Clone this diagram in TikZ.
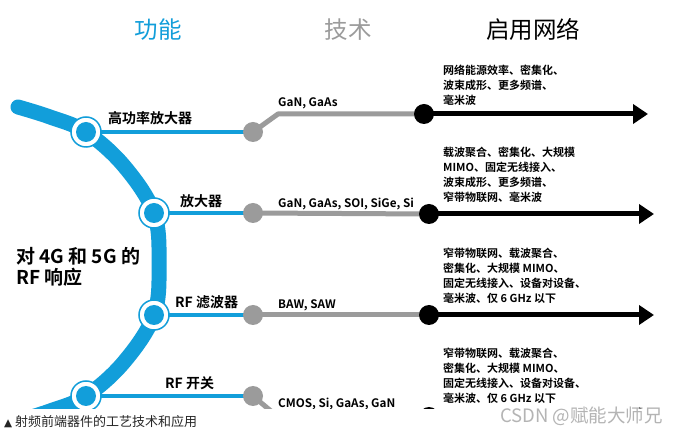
\documentclass[tikz,border=0pt]{standalone}
\usepackage{fontspec}
\setmainfont{Noto Sans CJK SC}[BoldFont={Noto Sans CJK SC Bold}]
\newfontfamily\symfont{DejaVu Sans}
\usetikzlibrary{arrows.meta}
\definecolor{fblue}{HTML}{129EDA}
\definecolor{tgray}{HTML}{9B9B9B}
\definecolor{wmgray}{HTML}{B4B4B4}
\begin{document}
\begin{tikzpicture}[x=1pt,y=-1pt,
 station/.style={circle, fill=white, draw=fblue, line width=1.5pt, minimum size=30pt, inner sep=0pt,
   path picture={\fill[fblue] (path picture bounding box.center) circle (10pt);}},
 gdot/.style={circle, fill=tgray, minimum size=20pt, inner sep=0pt},
 bdot/.style={circle, fill=black, minimum size=20pt, inner sep=0pt},
 bline/.style={draw=fblue, line width=4pt},
 gline/.style={draw=tgray, line width=5pt, line join=round},
 kline/.style={draw=black, line width=5pt, -{Triangle[length=15pt,width=19pt]}},
 lab/.style={anchor=base west, inner sep=0pt, font=\bfseries\fontsize{14}{16}\selectfont},
 tech/.style={anchor=base west, inner sep=0pt, font=\bfseries\fontsize{11.7}{14}\selectfont},
 net/.style={anchor=north west, inner sep=0pt, align=left, font=\bfseries\fontsize{11}{15}\selectfont},
 head/.style={anchor=base, inner sep=0pt, font=\fontsize{23.5}{26}\selectfont},
]
\useasboundingbox (0,0) rectangle (686,435);
\fill[white] (0,0) rectangle (686,435);
\begin{scope}
\clip (0,0) rectangle (686,409);
% headers
\node[head, text=fblue] (h1) at (158,38.5) {功能};
\node[head, text=tgray] (h2) at (348,38.5) {技术};
\node[head, text=black] (h3) at (533,38.5) {启用网络};
% blue arc
\draw[fblue, line width=15pt, line cap=round] plot[smooth, tension=0.6] coordinates
 {(18,107) (50,117) (86,132) (124,166) (154,213) (159,264) (154,315) (124,362) (86,396) (50,411) (18,421)};
% positions
\coordinate (g1p) at (253,132);
\coordinate (g2p) at (253,213);
\coordinate (g3p) at (253,315);
\coordinate (g4p) at (253,396);
\coordinate (k1) at (278,114);
\coordinate (k4) at (278,417);
\coordinate (b1p) at (424,114);
\coordinate (b2p) at (429,214);
\coordinate (b3p) at (429,315);
\coordinate (b4p) at (429,417);
\coordinate (e1) at (648,114);
\coordinate (e2) at (654,214);
\coordinate (e3) at (654,315);
\coordinate (e4) at (654,417);
\coordinate (s1p) at (86,132);
\coordinate (s2p) at (154,213);
\coordinate (s3p) at (154,315);
\coordinate (s4p) at (86,396);
% blue connectors
\draw[bline] (s1p) -- (g1p);
\draw[bline] (s2p) -- (g2p);
\draw[bline] (s3p) -- (g3p);
\draw[bline] (s4p) -- (g4p);
% gray connectors
\draw[gline] (g1p) -- (k1) -- (b1p);
\draw[gline] (g2p) -- (b2p);
\draw[gline] (g3p) -- (b3p);
\draw[gline] (g4p) -- (k4) -- (b4p);
% black arrows
\draw[kline] (b1p) -- (e1);
\draw[kline] (b2p) -- (e2);
\draw[kline] (b3p) -- (e3);
\draw[kline] (b4p) -- (e4);
% stations and dots
\node[station] (s1) at (s1p) {};
\node[station] (s2) at (s2p) {};
\node[station] (s3) at (s3p) {};
\node[station] (s4) at (s4p) {};
\node[gdot] (g1) at (g1p) {};
\node[gdot] (g2) at (g2p) {};
\node[gdot] (g3) at (g3p) {};
\node[gdot] (g4) at (g4p) {};
\node[bdot] (b1) at (b1p) {};
\node[bdot] (b2) at (b2p) {};
\node[bdot] (b3) at (b3p) {};
\node[bdot] (b4) at (b4p) {};
% function labels
\node[lab] (l1) at (108,124) {高功率放大器};
\node[lab] (l2) at (180,207) {放大器};
\node[lab] (l3) at (175,308) {RF 滤波器};
\node[lab] (l4) at (165,389) {RF 开关};
\node[anchor=base west, inner sep=0pt, font=\bfseries\fontsize{19}{21}\selectfont] (rf) at (16,264) {对 4G 和 5G 的};
\node[anchor=base west, inner sep=0pt, font=\bfseries\fontsize{19}{21}\selectfont] (rf2) at (16,285) {RF 响应};
% technology labels
\node[tech] (t1) at (278,106.5) {GaN, GaAs};
\node[tech] (t2) at (278,207.5) {GaN, GaAs, SOI, SiGe, Si};
\node[tech] (t3) at (278,308.5) {BAW, SAW};
\node[tech] (t4) at (278,407.5) {CMOS, Si, GaAs, GaN};
% network texts
\node[net] (n1) at (443,64.5) {网络能源效率、密集化、\\波束成形、更多频谱、\\毫米波};
\node[net] (n2) at (443,146.5) {载波聚合、密集化、大规模\\MIMO、固定无线接入、\\波束成形、更多频谱、\\窄带物联网、毫米波};
\node[net] (n3) at (443,247.5) {窄带物联网、载波聚合、\\密集化、大规模 MIMO、\\固定无线接入、设备对设备、\\毫米波、仅 6 GHz 以下};
\node[net] (n4) at (443,347.5) {窄带物联网、载波聚合、\\密集化、大规模 MIMO、\\固定无线接入、设备对设备、\\毫米波、仅 6 GHz 以下};
\end{scope}
% caption and watermark
\node[anchor=base west, inner sep=0pt, font=\fontsize{13}{15}\selectfont, text=black!85] (cap) at (4,427) {{\symfont\fontsize{10.5}{12}\selectfont ▲} 射频前端器件的工艺技术和应用};
\node[anchor=base west, inner sep=0pt, font=\fontsize{18.5}{20}\selectfont, text=wmgray] (wm) at (500,423) {CSDN @赋能大师兄};
\end{tikzpicture}
\end{document}
